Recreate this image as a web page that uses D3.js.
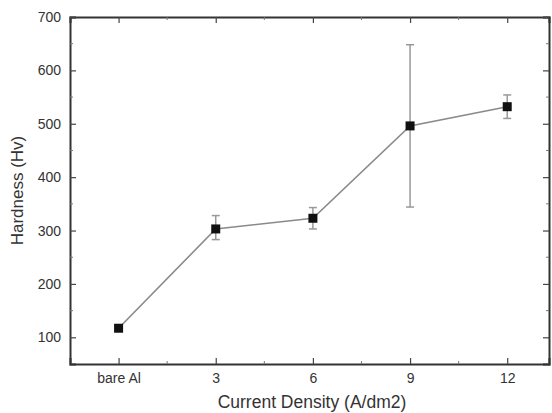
<!DOCTYPE html>
<html>
<head>
<meta charset="utf-8">
<script src="https://cdn.jsdelivr.net/npm/d3@7"></script>
<style>
  body { margin: 0; background: #fff; }
  text { font-family: "Liberation Sans", Arial, sans-serif; fill: #333; }
</style>
</head>
<body>
<svg id="chart"></svg>
<script>
let categories = ["bare Al", "3", "6", "9", "12"]
let hardness = [117, 303, 323, 496, 532]
let errLow = [0, 20, 20, 152, 22]
let errHigh = [0, 25, 20, 152, 22]
let yTicks = [100, 200, 300, 400, 500, 600, 700]

let width = 552
let height = 413
let padLeft = 70, padRight = 549, padTop = 17, padBottom = 364

let svg = d3.select("#chart").attr("width", width).attr("height", height)

let xScale = d3.scaleLinear().domain([-0.5, 4.43]).range([padLeft, padRight])
let yScale = d3.scaleLinear().domain([50, 700]).range([padBottom, padTop])

let majorX = d3.range(0, 5)
let minorX = d3.range(0.5, 4.5, 1)
let minorY = d3.range(150, 700, 100)

// axes with inward ticks
let axisB = d3.axisBottom(xScale).tickValues(majorX).tickSize(-6).tickPadding(9)
    .tickFormat((d) => categories[d])
let axisT = d3.axisTop(xScale).tickValues(majorX).tickSize(-6).tickFormat("")
let axisL = d3.axisLeft(yScale).tickValues(yTicks).tickSize(-6).tickPadding(9)
let axisR = d3.axisRight(yScale).tickValues(yTicks).tickSize(-6).tickFormat("")

let drawAxis = (axis, tr) => {
    let g = svg.append("g").attr("transform", tr).call(axis)
    g.select(".domain").attr("stroke", "#333").attr("stroke-width", 2)
    g.selectAll(".tick line").attr("stroke", "#444").attr("stroke-width", 1.2)
    g.selectAll("text").style("font-size", "14px").attr("fill", "#3a3a3a")
    return g
}
drawAxis(axisB, "translate(0," + padBottom + ")")
drawAxis(axisT, "translate(0," + padTop + ")")
drawAxis(axisL, "translate(" + padLeft + ",0)")
drawAxis(axisR, "translate(" + padRight + ",0)")

// minor ticks
let minor = svg.append("g").attr("stroke", "#777").attr("stroke-width", 1)
minorX.forEach((v) => {
    minor.append("line").attr("x1", xScale(v)).attr("x2", xScale(v)).attr("y1", padBottom).attr("y2", padBottom - 3)
    minor.append("line").attr("x1", xScale(v)).attr("x2", xScale(v)).attr("y1", padTop).attr("y2", padTop + 3)
})
minorY.forEach((v) => {
    minor.append("line").attr("x1", padLeft).attr("x2", padLeft + 3).attr("y1", yScale(v)).attr("y2", yScale(v))
    minor.append("line").attr("x1", padRight).attr("x2", padRight - 3).attr("y1", yScale(v)).attr("y2", yScale(v))
})

// error bars
let err = svg.append("g").attr("stroke", "#999").attr("stroke-width", 1.5)
hardness.forEach((v, i) => {
    if (errLow[i] === 0 && errHigh[i] === 0) return
    let x = xScale(i)
    let y1 = yScale(v + errHigh[i]), y2 = yScale(v - errLow[i])
    err.append("line").attr("x1", x).attr("x2", x).attr("y1", y1).attr("y2", y2)
    err.append("line").attr("x1", x - 4).attr("x2", x + 4).attr("y1", y1).attr("y2", y1)
    err.append("line").attr("x1", x - 4).attr("x2", x + 4).attr("y1", y2).attr("y2", y2)
})

// line
let line = d3.line().x((d, i) => xScale(i)).y((d) => yScale(d))
svg.append("path").datum(hardness).attr("d", line)
    .attr("fill", "none").attr("stroke", "#8a8a8a").attr("stroke-width", 1.6)

// markers
svg.selectAll("rect.pt").data(hardness).enter().append("rect")
    .attr("class", "pt")
    .attr("x", (d, i) => xScale(i) - 4.5)
    .attr("y", (d) => yScale(d) - 4.5)
    .attr("width", 9).attr("height", 9)
    .attr("fill", "#111")

// axis titles
svg.append("text").text("Current Density (A/dm2)")
    .attr("x", 312).attr("y", 408).attr("text-anchor", "middle")
    .style("font-size", "17.5px")

svg.append("text").text("Hardness (Hv)")
    .attr("transform", "translate(23," + ((padTop + padBottom) / 2) + ") rotate(-90)")
    .attr("text-anchor", "middle")
    .style("font-size", "17px")
</script>
</body>
</html>
